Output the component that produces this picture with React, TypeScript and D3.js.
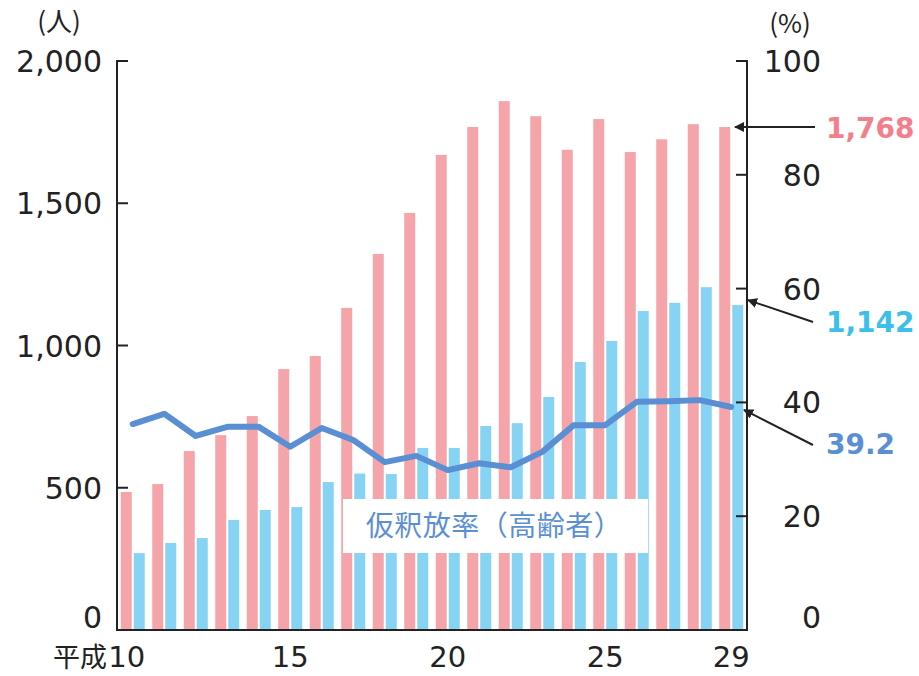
import React from "react";
import * as d3 from "d3";

const years = [10, 11, 12, 13, 14, 15, 16, 17, 18, 19, 20, 21, 22, 23, 24, 25, 26, 27, 28, 29];
const pinkValues = [485, 513, 629, 685, 752, 917, 963, 1132, 1322, 1466, 1670, 1768, 1859, 1806, 1688, 1796, 1680, 1725, 1778, 1768];
const blueValues = [270, 306, 323, 387, 422, 432, 520, 550, 548, 640, 640, 717, 727, 819, 942, 1016, 1121, 1150, 1205, 1142];
const rateValues = [36.2, 38.0, 34.1, 35.7, 35.7, 32.2, 35.5, 33.4, 29.5, 30.6, 28.1, 29.3, 28.6, 31.3, 36.0, 36.0, 40.1, 40.2, 40.4, 39.2];
const leftTicks = [0, 500, 1000, 1500, 2000];
const rightTicks = [0, 20, 40, 60, 80, 100];
const xTickYears = [10, 15, 20, 25, 29];

const W = 919, H = 676;
const left = 117, right = 747, top = 61, bottom = 630;
const FONT = "'Noto Sans CJK JP', 'Noto Sans', sans-serif";
const NUMFONT = "'DejaVu Sans', 'Noto Sans', sans-serif";
const PINK = "#f5a5aa";
const BLUE = "#86d3f3";
const LINE = "#5b8fd3";

export default function App() {
  const x = d3.scaleBand<number>().domain(years).range([left, right]).paddingInner(0).paddingOuter(0);
  const yL = d3.scaleLinear().domain([0, 2000]).range([bottom, top]);
  const yR = d3.scaleLinear().domain([0, 100]).range([bottom, top]);
  const bw = 11;
  const cx = (yr: number) => (x(yr) as number) + x.bandwidth() / 2;
  const line = d3.line<number>().x((_, i) => cx(years[i])).y((d) => yR(d));
  const fmt = d3.format(",");
  const last = years.length - 1;
  const labelY = (py: number) => (py >= bottom - 1 ? py - 2 : py + 11);

  return (
    <svg width={W} height={H} style={{ position: "absolute", left: 0, top: 0, background: "#fff" }} fontFamily={FONT}>
      <defs>
        <marker id="arr" viewBox="0 0 10 10" refX="9" refY="5" markerWidth="5" markerHeight="5" orient="auto-start-reverse">
          <path d="M0,0 L10,5 L0,10 z" fill="#222" />
        </marker>
      </defs>
      {years.map((yr, i) => (
        <g key={yr}>
          <rect x={cx(yr) - 12} y={yL(pinkValues[i])} width={bw} height={bottom - yL(pinkValues[i])} fill={PINK} />
          <rect x={cx(yr) + 1} y={yL(blueValues[i])} width={bw} height={bottom - yL(blueValues[i])} fill={BLUE} />
        </g>
      ))}
      {/* label box */}
      <rect x={343} y={499} width={305} height={54} fill="#fff" />
      <text x={494} y={536} textAnchor="middle" fontSize={28} letterSpacing={0.5} fill={LINE}>仮釈放率（高齢者）</text>
      <path d={line(rateValues) || ""} fill="none" stroke={LINE} strokeWidth={6} strokeLinejoin="round" strokeLinecap="round" />
      {/* axes */}
      <path d={`M${left + 11},${top} H${left} V${bottom} H${right} V${top} H${right - 11}`} fill="none" stroke="#222" strokeWidth={2} />
      {leftTicks.map((t) => (
        <g key={"l" + t}>
          <line x1={left} x2={left + 11} y1={yL(t)} y2={yL(t)} stroke="#222" strokeWidth={2} />
          <text x={102} y={labelY(yL(t))} textAnchor="end" fontSize={30} fontFamily={NUMFONT} fill="#222">{fmt(t)}</text>
        </g>
      ))}
      {rightTicks.map((t) => (
        <g key={"r" + t}>
          <line x1={right - 11} x2={right} y1={yR(t)} y2={yR(t)} stroke="#222" strokeWidth={2} />
          <text x={821} y={labelY(yR(t))} textAnchor="end" fontSize={30} fontFamily={NUMFONT} fill="#222">{t}</text>
        </g>
      ))}
      {xTickYears.map((yr) => (
        <text key={"x" + yr} x={yr === 10 ? cx(yr) - 6 : cx(yr)} y={667} textAnchor="middle" fontSize={29} fontFamily={NUMFONT} fill="#222">{yr}</text>
      ))}
      <text x={107} y={667} textAnchor="end" fontSize={27} fill="#222">平成</text>
      <text x={59} y={31} textAnchor="middle" fontSize={26} fill="#222">(人)</text>
      <text x={790} y={33} textAnchor="middle" fontSize={26} fill="#222">(%)</text>
      {/* callouts */}
      <line x1={815} y1={yL(pinkValues[last])} x2={735} y2={yL(pinkValues[last])} stroke="#222" strokeWidth={2} markerEnd="url(#arr)" />
      <text x={826} y={yL(pinkValues[last]) + 11} fontSize={28} fontWeight="bold" fontFamily={NUMFONT} fill="#f37f8c">{fmt(pinkValues[last])}</text>
      <line x1={813} y1={322} x2={748} y2={yL(blueValues[last]) - 5} stroke="#222" strokeWidth={2} markerEnd="url(#arr)" />
      <text x={826} y={332} fontSize={28} fontWeight="bold" fontFamily={NUMFONT} fill="#3dbfec">{fmt(blueValues[last])}</text>
      <line x1={813} y1={445} x2={744} y2={yR(rateValues[last]) + 3} stroke="#222" strokeWidth={2} markerEnd="url(#arr)" />
      <text x={826} y={454} fontSize={28} fontWeight="bold" fontFamily={NUMFONT} fill={LINE}>{rateValues[last]}</text>
    </svg>
  );
}
